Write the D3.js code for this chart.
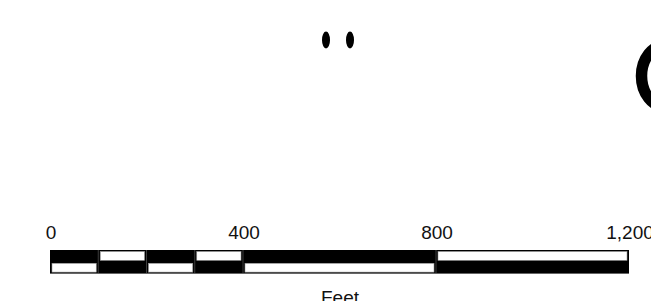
<!DOCTYPE html>
<html>
<head>
<meta charset="utf-8">
<script src="https://cdn.jsdelivr.net/npm/d3@7"></script>
<style>
  html, body { margin: 0; padding: 0; background: #fff; overflow: hidden; }
  svg { display: block; }
</style>
</head>
<body>
<script>
var width = 651,
    height = 301;

// scale bar data (feet)
var breaks = [0, 100, 200, 300, 400, 800, 1200];
var tickValues = [0, 400, 800, 1200];
var unitLabel = "Feet";
var topRowFill = ["black", "white", "black", "white", "black", "white"];
var bottomRowFill = ["white", "black", "white", "black", "white", "black"];

// decorative bits of the map that show at the top
var dotsX = [326, 350];

var svg = d3.select("body").append("svg")
    .attr("width", width)
    .attr("height", height);

var x = d3.scaleLinear()
    .domain([0, 1200])
    .range([50, 629]);

var barTop = 250,
    rowH = 11.8;
var labelFont = '"Liberation Sans", Arial, sans-serif';

// black base of the bar
svg.append("rect")
    .attr("x", x(0))
    .attr("y", barTop)
    .attr("width", x(1200) - x(0))
    .attr("height", rowH * 2)
    .attr("fill", "black");

var segs = d3.pairs(breaks);

function drawRow(fills, y0) {
    svg.append("g").selectAll("rect")
        .data(segs)
        .join("rect")
        .filter(function (d, i) { return fills[i] === "white"; })
        .attr("x", function (d) { return x(d[0]) + 2; })
        .attr("y", y0 + 1.5)
        .attr("width", function (d) { return x(d[1]) - x(d[0]) - 4; })
        .attr("height", rowH - 3)
        .attr("fill", "white")
        .attr("stroke", "#999")
        .attr("stroke-width", 0.6);
}
drawRow(topRowFill, barTop);
drawRow(bottomRowFill, barTop + rowH);

// faint division lines
svg.append("g").selectAll("line")
    .data(breaks.slice(1, -1))
    .join("line")
    .attr("x1", function (d) { return x(d); })
    .attr("x2", function (d) { return x(d); })
    .attr("y1", barTop)
    .attr("y2", barTop + rowH * 2)
    .attr("stroke", "#666")
    .attr("stroke-width", 0.6);

// tick labels
svg.append("g").selectAll("text")
    .data(tickValues)
    .join("text")
    .attr("x", function (d) { return x(d) + 1; })
    .attr("y", 239)
    .attr("text-anchor", "middle")
    .attr("fill", "#111")
    .style("font-family", labelFont)
    .style("font-size", "19px")
    .text(d3.format(","));

svg.append("text")
    .attr("x", 340)
    .attr("y", 303.5)
    .attr("text-anchor", "middle")
    .attr("fill", "#111")
    .style("font-family", labelFont)
    .style("font-size", "19px")
    .text(unitLabel);

// two dots
svg.append("g").selectAll("ellipse")
    .data(dotsX)
    .join("ellipse")
    .attr("cx", function (d) { return d; })
    .attr("cy", 40)
    .attr("rx", 4)
    .attr("ry", 8.5)
    .attr("fill", "black");

// big ring cut off at the right edge
svg.append("ellipse")
    .attr("cx", 666)
    .attr("cy", 76)
    .attr("rx", 24.5)
    .attr("ry", 31)
    .attr("fill", "none")
    .attr("stroke", "black")
    .attr("stroke-width", 11.5);
</script>
</body>
</html>
